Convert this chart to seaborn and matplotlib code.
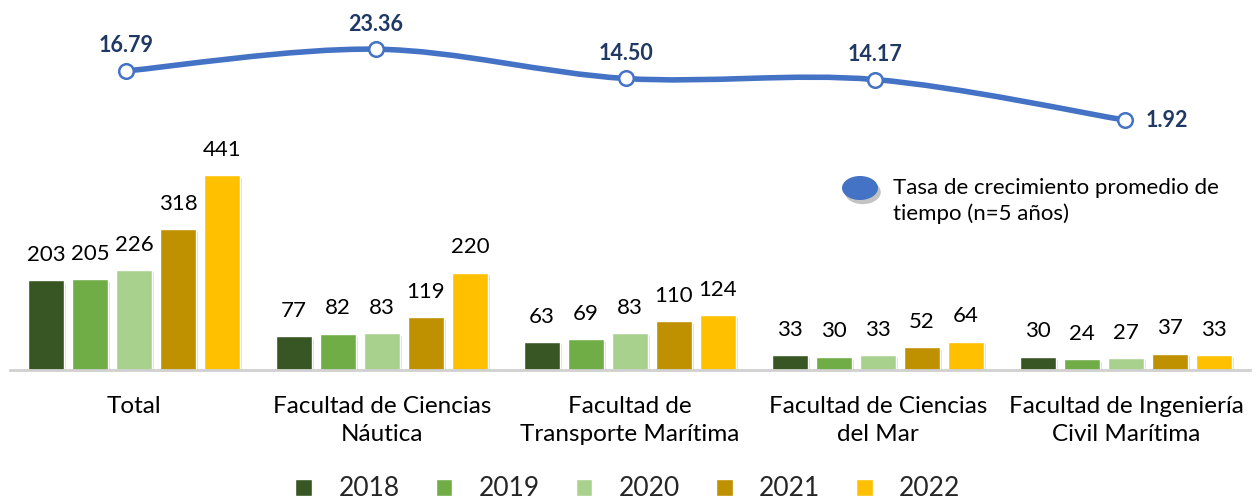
import numpy as np
import pandas as pd
import seaborn as sns
import matplotlib.pyplot as plt
from matplotlib.path import Path
from matplotlib.patches import PathPatch, Ellipse
import matplotlib.patheffects as pe

sns.set_theme(style="white")
plt.rcParams["font.family"] = ["Lato", "DejaVu Sans"]

facultades = ["Total", "Facultad de Ciencias\nNáutica", "Facultad de\nTransporte Marítima",
              "Facultad de Ciencias\ndel Mar", "Facultad de Ingeniería\nCivil Marítima"]
years = ["2018", "2019", "2020", "2021", "2022"]
v2018 = [203, 77, 63, 33, 30]
v2019 = [205, 82, 69, 30, 24]
v2020 = [226, 83, 83, 33, 27]
v2021 = [318, 119, 110, 52, 37]
v2022 = [441, 220, 124, 64, 33]
tasa = [16.79, 23.36, 14.50, 14.17, 1.92]

colors = ["#375623", "#70AD47", "#A9D18E", "#BF9000", "#FFC000"]
line_col = "#4472C4"
lab_col = "#1F3864"

rows = []
for y, vals in zip(years, [v2018, v2019, v2020, v2021, v2022]):
    for f, v in zip(facultades, vals):
        rows.append({"facultad": f, "year": y, "valor": v})
df = pd.DataFrame(rows)

fig = plt.figure(figsize=(12.58, 5.01), dpi=100)
rect = [10 / 1258, 131 / 501, 1240 / 1258, 360 / 501]
ax = fig.add_axes(rect)

sns.barplot(data=df, x="facultad", y="valor", hue="year", palette=colors,
            width=0.887, gap=0.2, ax=ax, saturation=1, errorbar=None)

for bars in ax.containers:
    ax.bar_label(bars, padding=11, fontsize=16, color="black")
    for b in bars:
        b.set_path_effects([pe.SimplePatchShadow(offset=(2, -2), shadow_rgbFace="#888888", alpha=0.3),
                            pe.Normal()])

ax.set_ylim(0, 814)
ax.set_xlim(-0.5, 4.5)
ax.set_xlabel("")
ax.set_ylabel("")
ax.set_yticks([])
ax.tick_params(axis="x", length=0, pad=19, labelsize=17.5, colors="black")
for lbl in ax.get_xticklabels():
    lbl.set_linespacing(1.4)
for s in ["top", "right", "left"]:
    ax.spines[s].set_visible(False)
ax.spines["bottom"].set_color("#D0D0D0")
ax.spines["bottom"].set_linewidth(2)

sns.move_legend(ax, "center", bbox_to_anchor=(628 / 1258, 12 / 501), bbox_transform=fig.transFigure,
                ncol=5, frameon=False, title=None, fontsize=19, handlelength=0.64,
                handleheight=0.64, columnspacing=1.35, handletextpad=1.0, borderpad=0)

# line on its own overlay axes
ax2 = fig.add_axes(rect)
ax2.patch.set_visible(False)
ax2.set_xlim(-0.4645, 4.5004)
ax2.set_ylim(-73.6, 35.2)
ax2.set_xticks([])
ax2.set_yticks([])
for s in ax2.spines.values():
    s.set_visible(False)

xs = np.arange(len(tasa), dtype=float)
pts = np.column_stack([xs, tasa])
verts = [tuple(pts[0])]
codes = [Path.MOVETO]
n = len(pts)
for i in range(n - 1):
    p0 = pts[i - 1] if i > 0 else pts[i]
    p1 = pts[i]
    p2 = pts[i + 1]
    p3 = pts[i + 2] if i + 2 < n else pts[i + 1]
    c1 = p1 + (p2 - p0) / 6
    c2 = p2 - (p3 - p1) / 6
    verts += [tuple(c1), tuple(c2), tuple(p2)]
    codes += [Path.CURVE4] * 3
ax2.add_patch(PathPatch(Path(verts, codes), fill=False, edgecolor=line_col, lw=4,
                        capstyle="round", zorder=3))
sns.scatterplot(x=xs, y=tasa, ax=ax2, s=110, color="white", edgecolor=line_col,
                linewidth=1.8, zorder=4, legend=False)

offsets = [(0, 18), (0, 18), (0, 18), (0, 18), (15, 0)]
for x, v, (dx, dy) in zip(xs, tasa, offsets):
    ha = "left" if dx > 0 else "center"
    ax2.annotate(f"{v:.2f}", (x, v), xytext=(dx, dy), textcoords="offset points",
                 ha=ha, va="center", fontsize=15.5, fontweight="bold", color=lab_col)

# line legend
el = Ellipse((860 / 1258, 1 - 188 / 501), 36 / 1258, 24 / 501, transform=fig.transFigure,
             facecolor=line_col, edgecolor="none",
             path_effects=[pe.SimplePatchShadow(offset=(2, -3), shadow_rgbFace="#555555", alpha=0.35),
                           pe.Normal()])
fig.patches.append(el)
fig.text(893 / 1258, 1 - 201 / 501, "Tasa de crecimiento promedio de\ntiempo (n=5 años)",
         ha="left", va="center", fontsize=16, color="black", linespacing=1.35)

fig.savefig("out.png", dpi=100)
